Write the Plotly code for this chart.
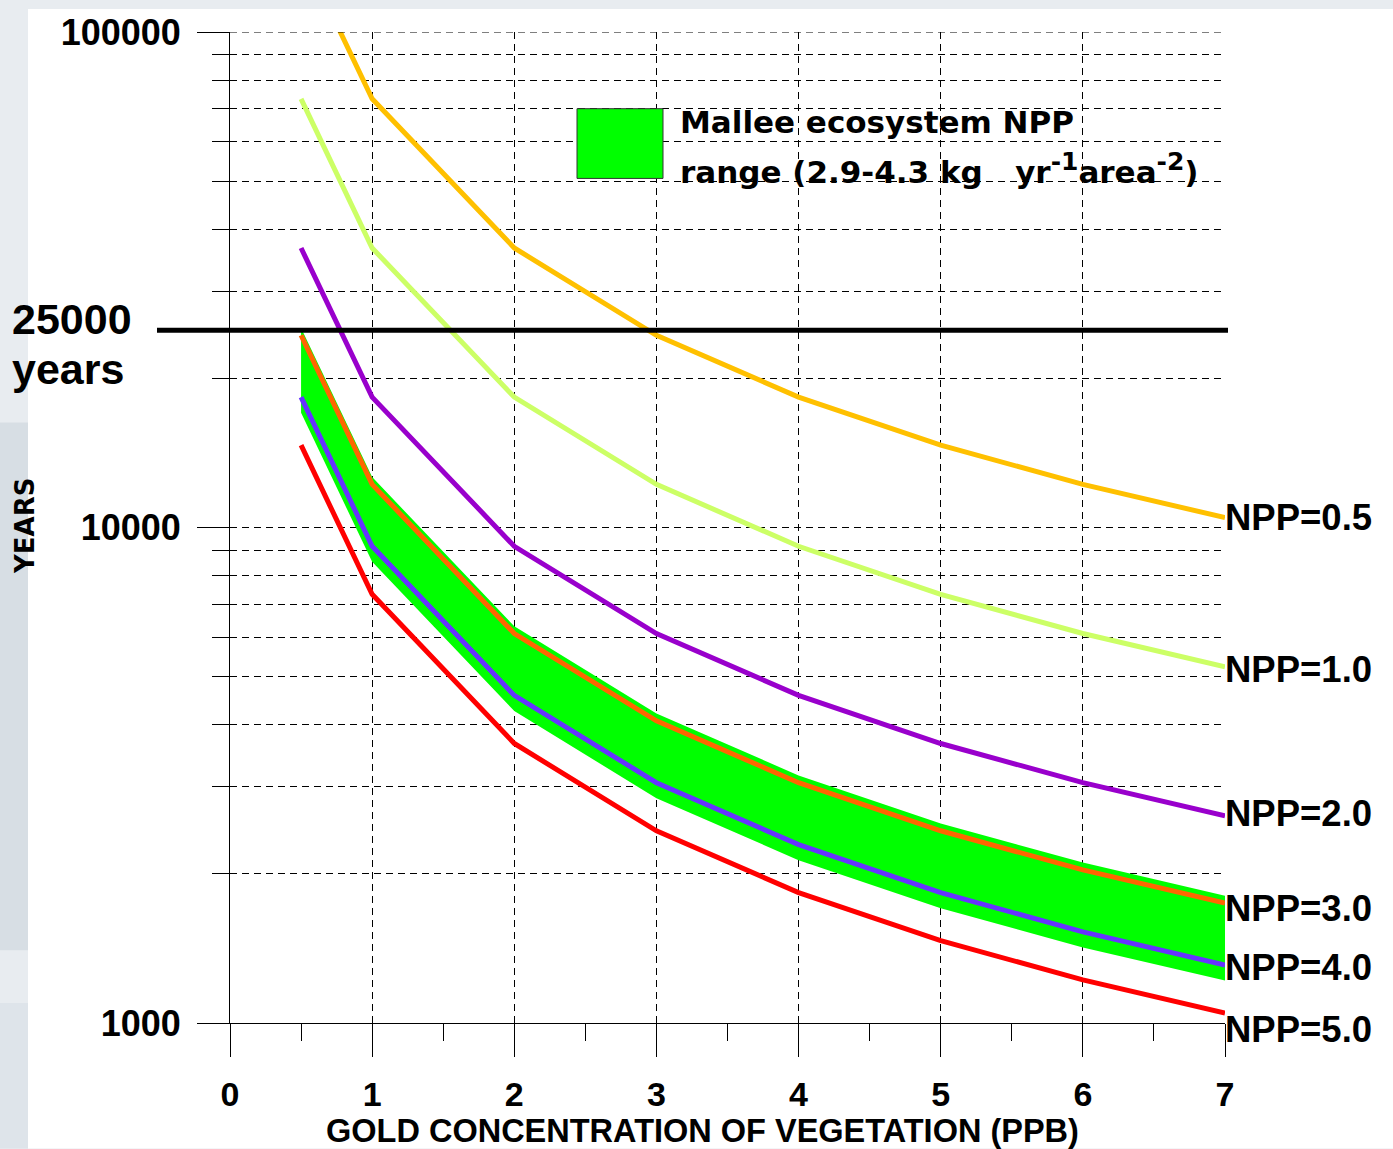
import math
import plotly.graph_objects as go

# ---------------- data ----------------
conc = [0.5, 1, 2, 3, 4, 5, 6, 7]  # gold concentration of vegetation (ppb)

years_npp_0_5 = [146600, 73300, 36650, 24430, 18330, 14660, 12220, 10470]
years_npp_1_0 = [73300, 36650, 18330, 12220, 9165, 7330, 6110, 5236]
years_npp_2_0 = [36650, 18330, 9165, 6110, 4583, 3665, 3055, 2618]
years_npp_3_0 = [24430, 12220, 6110, 4073, 3055, 2443, 2037, 1745]
years_npp_4_0 = [18330, 9165, 4583, 3055, 2291, 1833, 1527, 1309]
years_npp_5_0 = [14660, 7330, 3665, 2443, 1833, 1466, 1222, 1047]

band_upper_npp_2_9 = [25280, 12640, 6320, 4213, 3160, 2528, 2107, 1806]
band_lower_npp_4_3 = [17050, 8525, 4262, 2842, 2131, 1705, 1421, 1218]

series_names = ["NPP=0.5", "NPP=1.0", "NPP=2.0", "NPP=3.0", "NPP=4.0", "NPP=5.0"]
series_values = [years_npp_0_5, years_npp_1_0, years_npp_2_0,
                 years_npp_3_0, years_npp_4_0, years_npp_5_0]
series_colors = ["#FFC000", "#CCFF66", "#9900CC", "#FF6600", "#6633FF", "#FF0000"]
label_yshift = [0, -3, 2, -5, -2, -16]

x_tick_vals = [0, 1, 2, 3, 4, 5, 6, 7]
x_tick_text = ["0", "1", "2", "3", "4", "5", "6", "7"]
y_tick_vals = [1000, 10000, 100000]
y_tick_text = ["1000", "10000", "100000"]
y_minor_vals = [2000, 3000, 4000, 5000, 6000, 7000, 8000, 9000,
                20000, 30000, 40000, 50000, 60000, 70000, 80000, 90000]
threshold_years = 25000

# ---------------- layout geometry ----------------
W, H = 1393, 1149
L, R, T, B = 230, 1225, 28, 1023  # plot area in pixels
PW, PH = R - L, B - T


def px_x(px):
    return (px - L) / PW


def px_y(py):
    return 1 - (py - T) / PH


BOLD = "Liberation Sans, Arial, sans-serif"
WIDE = "DejaVu Sans, sans-serif"
DASH = "7px,5px"

fig = go.Figure()

# green NPP range band
fig.add_trace(go.Scatter(x=conc, y=band_lower_npp_4_3, mode="lines",
                         line=dict(width=0, color="#00FF00"),
                         showlegend=False, hoverinfo="skip"))
fig.add_trace(go.Scatter(x=conc, y=band_upper_npp_2_9, mode="lines",
                         line=dict(width=0, color="#00FF00"),
                         fill="tonexty", fillcolor="#00FF00",
                         showlegend=False, hoverinfo="skip"))

for name, vals, col in zip(series_names, series_values, series_colors):
    fig.add_trace(go.Scatter(x=conc, y=vals, mode="lines", name=name,
                             line=dict(width=5, color=col),
                             showlegend=False))

shapes = []
# slide-like background: white panel over light grey paper
shapes.append(dict(type="rect", xref="paper", yref="paper", layer="below",
                   x0=px_x(28), x1=px_x(W), y0=px_y(H), y1=px_y(5),
                   fillcolor="white", line=dict(width=0)))
shapes.append(dict(type="rect", xref="paper", yref="paper", layer="below",
                   x0=px_x(0), x1=px_x(28), y0=px_y(950), y1=px_y(420),
                   fillcolor="#D7DEE4", line=dict(width=0)))
shapes.append(dict(type="rect", xref="paper", yref="paper", layer="below",
                   x0=px_x(0), x1=px_x(28), y0=px_y(H), y1=px_y(1003),
                   fillcolor="#DEE4EA", line=dict(width=0)))
# top dashed grid line at the upper range limit
shapes.append(dict(type="line", xref="x", yref="y",
                   x0=x_tick_vals[0], x1=x_tick_vals[-1],
                   y0=y_tick_vals[-1], y1=y_tick_vals[-1],
                   line=dict(color="black", width=1, dash=DASH)))
# 25000-year threshold line
shapes.append(dict(type="line", xref="paper", yref="y",
                   x0=px_x(157), x1=px_x(1228), y0=threshold_years, y1=threshold_years,
                   line=dict(color="black", width=5)))
# legend swatch
shapes.append(dict(type="rect", xref="paper", yref="paper",
                   x0=px_x(577), x1=px_x(663), y0=px_y(175), y1=px_y(105),
                   fillcolor="#00FF00", line=dict(color="#333333", width=1)))

annotations = []
for name, vals, ys in zip(series_names, series_values, label_yshift):
    annotations.append(dict(x=conc[-1], y=math.log10(vals[-1]), xref="x", yref="y",
                            yshift=ys, text="<b>" + name + "</b>", showarrow=False,
                            xanchor="left", yanchor="middle", xshift=-2,
                            font=dict(family=BOLD, size=36.5, color="black")))

annotations += [
    dict(x=px_x(678), y=px_y(118), xref="paper", yref="paper",
         text="<b>Mallee ecosystem NPP</b>", showarrow=False,
         xanchor="left", yanchor="middle", font=dict(family=WIDE, size=31, color="black")),
    dict(x=px_x(678), y=px_y(165), xref="paper", yref="paper",
         text="<b>range (2.9-4.3 kg\u00a0\u00a0 yr<sup><span style=\"font-size:25px\">-1</span></sup>"
              "area<sup><span style=\"font-size:25px\">-2</span></sup>)</b>",
         showarrow=False, xanchor="left", yanchor="middle",
         font=dict(family=WIDE, size=31, color="black")),
    dict(x=px_x(10), y=px_y(316), xref="paper", yref="paper",
         text="<b>25000</b>", showarrow=False, xanchor="left", yanchor="middle",
         font=dict(family=BOLD, size=43, color="black")),
    dict(x=px_x(10), y=px_y(366), xref="paper", yref="paper",
         text="<b>years</b>", showarrow=False, xanchor="left", yanchor="middle",
         font=dict(family=BOLD, size=43, color="black")),
    dict(x=px_x(25), y=px_y(524), xref="paper", yref="paper",
         text="<b>YEARS</b>", showarrow=False, textangle=-90,
         xanchor="center", yanchor="middle",
         font=dict(family=WIDE, size=26, color="black")),
    dict(x=px_x(702), y=px_y(1131), xref="paper", yref="paper",
         text="<b>GOLD CONCENTRATION OF VEGETATION (PPB)</b>", showarrow=False,
         xanchor="center", yanchor="middle",
         font=dict(family=BOLD, size=32.5, color="black")),
]

fig.update_layout(
    width=W, height=H,
    margin=dict(l=L, r=W - R, t=T, b=H - B, pad=0),
    paper_bgcolor="#E8ECF0",
    plot_bgcolor="white",
    shapes=shapes,
    annotations=annotations,
    showlegend=False,
    xaxis=dict(
        range=[0, 7], tickmode="array", tickvals=x_tick_vals, ticktext=x_tick_text,
        ticks="outside", ticklen=33, tickwidth=1, tickcolor="black",
        showline=True, linecolor="black", linewidth=1,
        showgrid=True, gridcolor="black", gridwidth=1, griddash=DASH,
        zeroline=False,
        tickfont=dict(family=BOLD, size=34, color="black", weight="bold"),
        ticklabelstandoff=8,
        minor=dict(dtick=0.5, ticks="outside", ticklen=17, tickwidth=1,
                   tickcolor="black", showgrid=False),
    ),
    yaxis=dict(
        type="log", range=[3, 5], tickmode="array", tickvals=y_tick_vals,
        ticktext=y_tick_text,
        ticks="outside", ticklen=32, tickwidth=1, tickcolor="black",
        showline=True, linecolor="black", linewidth=1,
        showgrid=True, gridcolor="black", gridwidth=1, griddash=DASH,
        zeroline=False,
        tickfont=dict(family=BOLD, size=36, color="black", weight="bold"),
        ticklabelstandoff=9,
        minor=dict(tickmode="array", tickvals=y_minor_vals, ticks="outside",
                   ticklen=17, tickwidth=1, tickcolor="black",
                   showgrid=True, gridcolor="black", gridwidth=1, griddash=DASH),
    ),
)

fig.write_html("out.html")
